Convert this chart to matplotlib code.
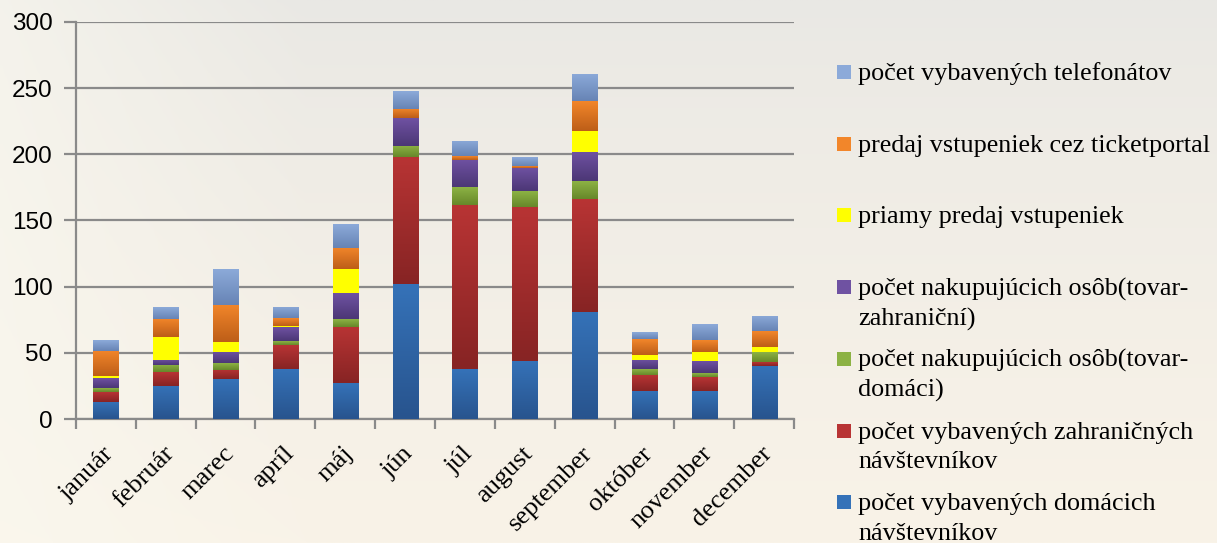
import numpy as np
import matplotlib
matplotlib.use("Agg")
import matplotlib.pyplot as plt
from matplotlib.colors import LinearSegmentedColormap, to_rgb
from matplotlib.patches import Rectangle
import matplotlib.transforms as mtransforms

months = ["január", "február", "marec", "apríl", "máj", "jún", "júl",
          "august", "september", "október", "november", "december"]

domaci_navst = [13, 25, 30, 38, 27, 102, 37.5, 44, 81, 21.5, 21.5, 40]
zahranicni_navst = [7.5, 10.5, 7, 18, 42.5, 96, 124, 116.5, 85, 11.5, 10.5, 3]
nakup_domaci = [3, 5.3, 5, 3, 6, 8.5, 13.5, 12, 13.5, 4.5, 3, 7.5]
nakup_zahranicni = [7.5, 3.8, 9, 10.5, 19.5, 21, 20.5, 17.5, 22.5, 7, 8.5, 0]
priamy_predaj = [1.5, 17.4, 7.5, 1, 18, 0, 0, 0, 16, 4, 7.5, 4]
ticketportal = [19, 13.7, 28, 5.5, 16, 7, 3, 1.5, 22, 12, 9, 12]
telefonaty = [8, 9, 26.5, 9, 18, 13.5, 11.5, 6.5, 20.5, 5, 11.5, 11.5]

series_labels = [
    "počet vybavených domácich\nnávštevníkov",
    "počet vybavených zahraničných\nnávštevníkov",
    "počet nakupujúcich osôb(tovar-\ndomáci)",
    "počet nakupujúcich osôb(tovar-\nzahraniční)",
    "priamy predaj vstupeniek",
    "predaj vstupeniek cez ticketportal",
    "počet vybavených telefonátov",
]
series_values = [domaci_navst, zahranicni_navst, nakup_domaci, nakup_zahranicni,
                 priamy_predaj, ticketportal, telefonaty]
# (top colour, bottom colour) for each series
series_colors = [
    ("#3572b8", "#28548e"),
    ("#b83434", "#872424"),
    ("#8cb244", "#67882a"),
    ("#6f52a2", "#4c3776"),
    ("#ffff00", "#ffff00"),
    ("#f2862a", "#bd5e18"),
    ("#8caad9", "#6784b5"),
]

W, H = 1217, 543
fig = plt.figure(figsize=(W / 100, H / 100), dpi=100)

# soft background
bg = fig.add_axes([0, 0, 1, 1], zorder=-10)
yy = np.linspace(0, 1, 200)[:, None]
xx = np.linspace(0, 1, 300)[None, :]
top = np.array(to_rgb("#e9e8e4"))
bot = np.array(to_rgb("#f9f3e8"))
left = np.array(to_rgb("#fbf9f0"))
t = (yy ** 0.8)
img = top[None, None, :] * (1 - t[..., None]) + bot[None, None, :] * t[..., None]
img = img * np.ones((1, 300, 1))
wl = np.clip(1 - xx * 4, 0, 1)[..., None] * 0.6
img = img * (1 - wl) + left[None, None, :] * wl
bg.imshow(img, extent=[0, 1, 0, 1], aspect="auto", origin="upper")
bg.set_axis_off()

ax = fig.add_axes([76 / W, 1 - 419 / H, (794 - 76) / W, (419 - 22) / H])
ax.patch.set_alpha(0)

x = np.arange(len(months))
bottom = np.zeros(len(months))
containers = []
for vals, (ctop, cbot) in zip(series_values, series_colors):
    vals = np.array(vals, dtype=float)
    bc = ax.bar(x, vals, width=0.42, bottom=bottom, color=ctop, zorder=3,
                linewidth=0)
    containers.append((bc, ctop, cbot))
    bottom = bottom + vals

ax.set_xlim(-0.5, len(months) - 0.5)
ax.set_ylim(0, 300)

# gradient fill for every segment
for bc, ctop, cbot in containers:
    cmap = LinearSegmentedColormap.from_list("g", [cbot, ctop])
    for rect in bc.patches:
        h = rect.get_height()
        if h <= 0:
            continue
        x0, y0, w = rect.get_x(), rect.get_y(), rect.get_width()
        grad = np.linspace(1, 0, 64)[:, None]
        im = ax.imshow(grad, extent=[x0, x0 + w, y0, y0 + h], aspect="auto",
                       cmap=cmap, vmin=0, vmax=1, zorder=3.5, origin="upper",
                       interpolation="bilinear")
        im.set_clip_path(rect)
ax.set_xlim(-0.5, len(months) - 0.5)
ax.set_ylim(0, 300)
ax.set_aspect("auto")

grid_c = "#8a8a8a"
ax.set_yticks(np.arange(0, 301, 50))
ax.yaxis.grid(True, color=grid_c, linewidth=1.6, zorder=1)
ax.set_axisbelow(True)
for s in ["top", "right"]:
    ax.spines[s].set_visible(False)
for s in ["left", "bottom"]:
    ax.spines[s].set_color(grid_c)
    ax.spines[s].set_linewidth(1.6)
ax.tick_params(axis="y", length=9, width=1.6, color=grid_c, pad=8,
               labelsize=17.5, labelcolor="black")
for lab in ax.get_yticklabels():
    lab.set_family("Liberation Sans")

ax.set_xticks(x)
ax.set_xticks(np.arange(-0.5, len(months), 1.0), minor=True)
ax.tick_params(axis="x", which="major", length=0, pad=17)
ax.tick_params(axis="x", which="minor", length=7, width=1.6, color=grid_c)
ax.set_xticklabels(months, rotation=45, ha="right", va="top",
                   rotation_mode="anchor", fontsize=19,
                   family="Liberation Serif")
offset = mtransforms.ScaledTranslation(-3 / 100, 0, fig.dpi_scale_trans)
for lab in ax.get_xticklabels():
    lab.set_transform(lab.get_transform() + offset)

# legend (reverse order, first lines evenly spaced)
leg_items = list(zip(series_labels, series_colors))[::-1]
for i, (label, (ctop, cbot)) in enumerate(leg_items):
    base = 80 + 71.7 * i
    fig.patches.append(Rectangle((837 / W, 1 - (base - 1) / H), 14 / W, 14 / H,
                                 transform=fig.transFigure, facecolor=ctop,
                                 edgecolor="none"))
    for j, line in enumerate(label.split("\n")):
        fig.text(858 / W, 1 - (base + 30 * j) / H, line, fontsize=18.8,
                 family="Liberation Serif", va="baseline", ha="left",
                 color="black")

fig.savefig("out.png", dpi=100)
